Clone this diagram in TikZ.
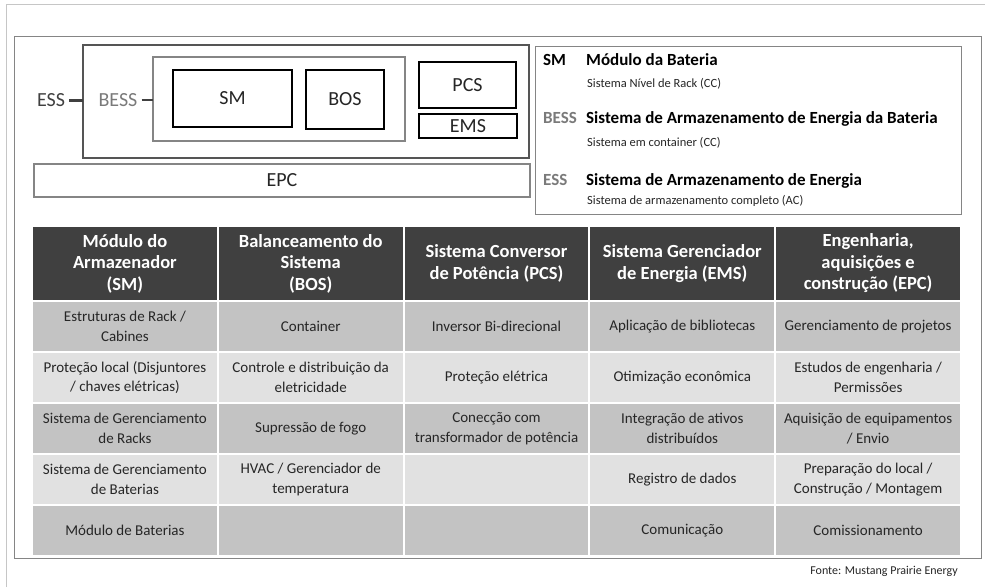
\documentclass[tikz,border=0pt]{standalone}
\usepackage{fontspec}
\setmainfont{Carlito}
\usetikzlibrary{positioning}
\definecolor{hdrGray}{HTML}{404040}
\definecolor{rowDark}{HTML}{C3C3C3}
\definecolor{rowLight}{HTML}{E1E1E1}
\definecolor{txtDark}{HTML}{262626}
\definecolor{lineGray}{HTML}{858585}
\definecolor{essGray}{HTML}{555555}
\definecolor{keyGray}{HTML}{7A7A7A}

\begin{document}
\begin{tikzpicture}[x=1pt, y=-1pt,
    frame/.style={draw, inner sep=0pt, outer sep=0pt},
    part/.style={frame, draw=black, line width=2pt, text=txtDark, font=\fontsize{20}{24}\selectfont},
    lbl/.style={inner ysep=1pt, inner xsep=4pt, font=\fontsize{20}{24}\selectfont},
    hdr/.style={fill=hdrGray, text=white, font=\bfseries\fontsize{18.5}{21.5}\selectfont, minimum width=183.8pt, minimum height=73pt, align=center, inner sep=0pt, outer sep=0pt},
    cell/.style={text=txtDark, font=\fontsize{15}{19.5}\selectfont, minimum width=183.8pt, minimum height=49pt, align=center, inner sep=0pt, outer sep=0pt},
    dk/.style={cell, fill=rowDark},
    lt/.style={cell, fill=rowLight},
    key/.style={anchor=base west, inner sep=0pt, font=\bfseries\fontsize{17}{20}\selectfont},
    sub/.style={anchor=base west, inner sep=0pt, text=txtDark, font=\fontsize{12.5}{15}\selectfont}
  ]
  \useasboundingbox[fill=white] (0,0) rectangle (985,587);
  % screenshot frame
  \draw[gray!45, line width=1pt] (6,587) -- (6,4) -- (985,4);
  \draw[lineGray, line width=1pt] (14,36) rectangle (981,558);

  % block diagram
  \node[frame, draw=essGray, line width=2.5pt, minimum width=446pt, minimum height=113pt] (ess) at (306,101.5) {};
  \node[frame, draw=lineGray, line width=2pt, minimum width=252pt, minimum height=84pt] (bess) at (279,99) {};
  \node[part, minimum width=119pt, minimum height=57pt] (sm) at (232.5,98.5) {SM};
  \node[part, minimum width=78pt, minimum height=59pt] (bos) at (345,99.5) {BOS};
  \node[part, minimum width=97pt, minimum height=46pt] (pcs) at (467.5,85) {PCS};
  \node[part, minimum width=98pt, minimum height=24pt] (ems) at (468,126) {EMS};
  \node[frame, draw=lineGray, line width=2pt, minimum width=496pt, minimum height=33pt, text=txtDark, font=\fontsize{20}{24}\selectfont] (epc) at (282,180.5) {EPC};
  \node[lbl, text=hdrGray] (esslbl) at (51,100) {ESS};
  \node[lbl, text=keyGray] (besslbl) at (118,100) {BESS};
  \draw[hdrGray, line width=3pt] (esslbl) -- (esslbl -| ess.west);
  \draw[hdrGray, line width=1.6pt] (besslbl) -- (besslbl -| bess.west);

  % legend
  \node[frame, draw=lineGray, line width=1pt, minimum width=426pt, minimum height=168pt] (legend) at (748,130) {};
  \node[key] (kSM) at (543,65.5) {SM};
  \node[key] (kSMname) at (586,65.5) {Módulo da Bateria};
  \node[sub] (kSMsub) at (587,87) {Sistema Nível de Rack (CC)};
  \node[key, text=keyGray] (kBESS) at (543,123.5) {BESS};
  \node[key] (kBESSname) at (586,123.5) {Sistema de Armazenamento de Energia da Bateria};
  \node[sub] (kBESSsub) at (587,146) {Sistema em container (CC)};
  \node[key, text=keyGray] (kESS) at (543,185.5) {ESS};
  \node[key] (kESSname) at (586,185.5) {Sistema de Armazenamento de Energia};
  \node[sub] (kESSsub) at (587,204) {Sistema de armazenamento completo (AC)};

  % table header
  \node[hdr] (h1) at (124.9,263.5) {Módulo do\\Armazenador\\(SM)};
  \node[hdr, right=2pt of h1] (h2) {Balanceamento do\\Sistema\\(BOS)};
  \node[hdr, right=2pt of h2] (h3) {Sistema Conversor\\de Potência (PCS)};
  \node[hdr, right=2pt of h3] (h4) {Sistema Gerenciador\\de Energia (EMS)};
  \node[hdr, right=2pt of h4] (h5) {Engenharia,\\aquisições e\\construção (EPC)};

  % table rows
  \node[dk, below=2pt of h1] (r1c1) {Estruturas de Rack /\\Cabines};
  \node[dk, right=2pt of r1c1] (r1c2) {Container};
  \node[dk, right=2pt of r1c2] (r1c3) {Inversor Bi-direcional};
  \node[dk, right=2pt of r1c3] (r1c4) {Aplicação de bibliotecas};
  \node[dk, right=2pt of r1c4] (r1c5) {Gerenciamento de projetos};

  \node[lt, below=2pt of r1c1] (r2c1) {Proteção local (Disjuntores\\/ chaves elétricas)};
  \node[lt, right=2pt of r2c1] (r2c2) {Controle e distribuição da\\eletricidade};
  \node[lt, right=2pt of r2c2] (r2c3) {Proteção elétrica};
  \node[lt, right=2pt of r2c3] (r2c4) {Otimização econômica};
  \node[lt, right=2pt of r2c4] (r2c5) {Estudos de engenharia /\\Permissões};

  \node[dk, below=2pt of r2c1] (r3c1) {Sistema de Gerenciamento\\de Racks};
  \node[dk, right=2pt of r3c1] (r3c2) {Supressão de fogo};
  \node[dk, right=2pt of r3c2] (r3c3) {Conecção com\\transformador de potência};
  \node[dk, right=2pt of r3c3] (r3c4) {Integração de ativos\\distribuídos};
  \node[dk, right=2pt of r3c4] (r3c5) {Aquisição de equipamentos\\/ Envio};

  \node[lt, below=2pt of r3c1] (r4c1) {Sistema de Gerenciamento\\de Baterias};
  \node[lt, right=2pt of r4c1] (r4c2) {HVAC / Gerenciador de\\temperatura};
  \node[lt, right=2pt of r4c2] (r4c3) {};
  \node[lt, right=2pt of r4c3] (r4c4) {Registro de dados};
  \node[lt, right=2pt of r4c4] (r4c5) {Preparação do local /\\Construção / Montagem};

  \node[dk, below=2pt of r4c1] (r5c1) {Módulo de Baterias};
  \node[dk, right=2pt of r5c1] (r5c2) {};
  \node[dk, right=2pt of r5c2] (r5c3) {};
  \node[dk, right=2pt of r5c3] (r5c4) {Comunicação};
  \node[dk, right=2pt of r5c4] (r5c5) {Comissionamento};

  \node[anchor=east, inner sep=0pt, text=txtDark, font=\fontsize{12}{14}\selectfont] (fonte) at (958,571) {Fonte: Mustang Prairie Energy};
\end{tikzpicture}
\end{document}
